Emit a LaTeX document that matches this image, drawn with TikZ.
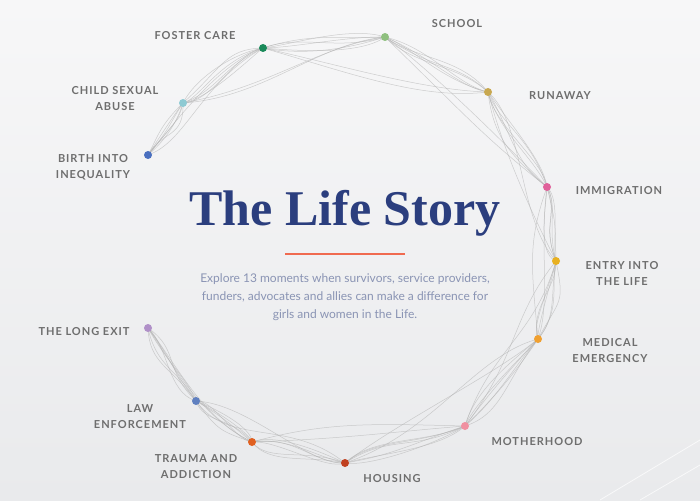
\documentclass[tikz,border=0pt]{standalone}
\usepackage{fontspec}
\setmainfont{Lato}
\newfontfamily\lab[LetterSpace=9]{Lato}
\newfontfamily\ttl{Liberation Serif}
\usetikzlibrary{calc}
\definecolor{bgtop}{HTML}{F7F7F8}
\definecolor{bgbot}{HTML}{E9EAEC}
\definecolor{labgray}{HTML}{6E6E6E}
\definecolor{ttlblue}{HTML}{2B3E7E}
\definecolor{subblue}{HTML}{8A94B4}
\definecolor{accent}{HTML}{F06A50}
\definecolor{cA}{HTML}{4A6FBF}
\definecolor{cB}{HTML}{8ECAD3}
\definecolor{cC}{HTML}{1A8A5A}
\definecolor{cD}{HTML}{8FC07F}
\definecolor{cE}{HTML}{C8A850}
\definecolor{cF}{HTML}{E0609A}
\definecolor{cG}{HTML}{E8B020}
\definecolor{cH}{HTML}{F0A030}
\definecolor{cI}{HTML}{F090A0}
\definecolor{cJ}{HTML}{C04020}
\definecolor{cK}{HTML}{E06020}
\definecolor{cL}{HTML}{6080C0}
\definecolor{cM}{HTML}{B090C8}
\tikzset{
  moment/.style={font=\lab\bfseries\fontsize{11}{16}\selectfont, text=labgray, align=center},
  dot/.style={circle, fill=#1, inner sep=0pt, minimum size=8pt},
  strand/.style={draw=black!30, line width=0.5pt, opacity=0.6}
}
\begin{document}
\begin{tikzpicture}[x=1pt,y=-1pt]
\useasboundingbox (0,0) rectangle (700,500);
\shade[top color=bgtop, bottom color=bgbot] (0,0) rectangle (700,500);
\draw[white, line width=0.8pt, opacity=0.7] (600,500) -- (700,440) (640,500) -- (700,465);

% moments on the ring
\coordinate (d1) at (148,155);
\coordinate (d2) at (183,103);
\coordinate (d3) at (263,48);
\coordinate (d4) at (385,37);
\coordinate (d5) at (488,92);
\coordinate (d6) at (547,187);
\coordinate (d7) at (556,261);
\coordinate (d8) at (538,339);
\coordinate (d9) at (465,426);
\coordinate (d10) at (345,463);
\coordinate (d11) at (252,442);
\coordinate (d12) at (196,401);
\coordinate (d13) at (148,328);

% strands
\pgfmathsetseed{7}
\foreach \i/\j in {1/2,2/3,3/4,4/5,5/6,6/7,7/8,8/9,9/10,10/11,11/12,12/13}{
  \foreach \k in {1,...,6}{
    \draw[strand] (d\i) .. controls ($(d\i)!0.33!(d\j)+({rand*18},{rand*18})$)
      and ($(d\i)!0.66!(d\j)+({rand*18},{rand*18})$) .. (d\j);
  }
}
\foreach \i/\j in {1/3,2/4,3/5,4/6,5/7,6/8,7/9,8/10,9/11,10/12,11/13}{
  \foreach \k in {1,2}{
    \draw[strand] (d\i) .. controls ($(d\i)!0.33!(d\j)+({rand*25},{rand*25})$)
      and ($(d\i)!0.66!(d\j)+({rand*25},{rand*25})$) .. (d\j);
  }
}

\foreach \n/\c in {1/cA,2/cB,3/cC,4/cD,5/cE,6/cF,7/cG,8/cH,9/cI,10/cJ,11/cK,12/cL,13/cM}
  \node[dot=\c] (m\n) at (d\n) {};

% labels
\node[moment] (l1) at (93,167) {BIRTH INTO\\INEQUALITY};
\node[moment] (l2) at (115,99) {CHILD SEXUAL\\ABUSE};
\node[moment] (l3) at (195,36) {FOSTER CARE};
\node[moment] (l4) at (457,24) {SCHOOL};
\node[moment] (l5) at (560,96) {RUNAWAY};
\node[moment] (l6) at (619,191) {IMMIGRATION};
\node[moment] (l7) at (622,273) {ENTRY INTO\\THE LIFE};
\node[moment] (l8) at (610,351) {MEDICAL\\EMERGENCY};
\node[moment] (l9) at (537,442) {MOTHERHOOD};
\node[moment] (l10) at (392,479) {HOUSING};
\node[moment] (l11) at (196,467) {TRAUMA AND\\ADDICTION};
\node[moment] (l12) at (140,417) {LAW\\ENFORCEMENT};
\node[moment] (l13) at (84,332) {THE LONG EXIT};

% title block
\node[font=\ttl\bfseries\fontsize{50}{56}\selectfont, text=ttlblue] (title) at (345,213) {The Life Story};
\draw[accent, line width=1.2pt] (285,254) -- (405,254);
\node[font=\fontsize{12}{18}\selectfont, text=subblue, align=center] (sub) at (345,297)
  {Explore 13 moments when survivors, service providers,\\funders, advocates and allies can make a difference for\\girls and women in the Life.};
\end{tikzpicture}
\end{document}
